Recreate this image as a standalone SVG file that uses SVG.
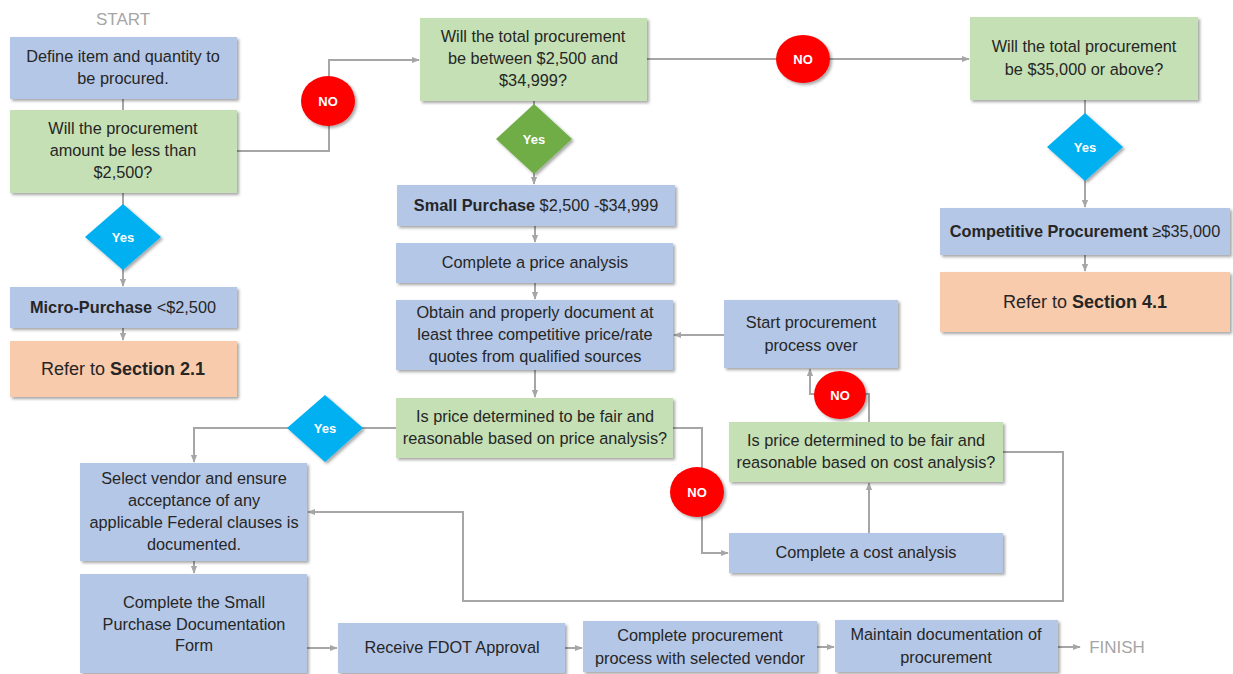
<svg xmlns="http://www.w3.org/2000/svg" width="1233" height="674" viewBox="0 0 1233 674">
<defs>
<filter id="sh" x="-10%" y="-10%" width="130%" height="140%">
<feDropShadow dx="2" dy="2" stdDeviation="1.5" flood-color="#000" flood-opacity="0.35"/>
</filter>
<marker id="ar" viewBox="0 0 10 10" refX="9" refY="5" markerWidth="4" markerHeight="4" orient="auto">
<path d="M0,1 L10,5 L0,9 z" fill="#A6A6A6"/>
</marker>
<style>
.b{fill:#B4C7E7;filter:url(#sh)}
.g{fill:#C5E0B4;filter:url(#sh)}
.o{fill:#F8CBAD;filter:url(#sh)}
.no{fill:#FF0000;filter:url(#sh)}
.yb{fill:#00B0F0;filter:url(#sh)}
.yg{fill:#70AD47;filter:url(#sh)}
text{font-family:"Liberation Sans",Arial,sans-serif;fill:#262626;font-size:16.3px;text-anchor:middle}
.bold{font-weight:bold}
.w{fill:#fff;font-weight:bold;font-size:13px}
.big{font-size:18px}
.gray{fill:#A6A6A6;font-size:17px}
.c{fill:none;stroke:#A6A6A6;stroke-width:2}
.ca{fill:none;stroke:#A6A6A6;stroke-width:2;marker-end:url(#ar)}
</style>
</defs>
<rect width="1233" height="674" fill="#fff"/>

<g id="connectors">
<path class="c" d="M123,99 V110"/>
<path class="ca" d="M237,151 H329 V60 H419"/>
<path class="ca" d="M123,193 V286"/>
<path class="ca" d="M123,328 V340"/>
<path class="ca" d="M647,59 H969"/>
<path class="ca" d="M534,101 V184"/>
<path class="ca" d="M535,226 V242"/>
<path class="ca" d="M535,283 V299"/>
<path class="ca" d="M1085,100 V207"/>
<path class="ca" d="M1085,255 V271"/>
<path class="ca" d="M724,335 H674"/>
<path class="ca" d="M535,370 V397"/>
<path class="ca" d="M396,428 H194 V462"/>
<path class="ca" d="M673,428 H702 V553 H728"/>
<path class="ca" d="M869,533 V483"/>
<path class="c" d="M869,422 V394 H840"/>
<path class="ca" d="M840,394 H810 V369"/>
<path class="ca" d="M1003,452 H1063 V601 H463 V512 H308"/>
<path class="ca" d="M194,561 V573"/>
<path class="ca" d="M307,648 H337"/>
<path class="ca" d="M565,648 H582"/>
<path class="ca" d="M817,647 H834"/>
<path class="ca" d="M1058,647 H1080"/>
</g>

<g id="start"><text class="gray" x="123" y="25">START</text></g>

<g id="define">
<rect class="b" x="10" y="37" width="227" height="62"/>
<text x="123" y="62">Define item and quantity to</text>
<text x="123" y="84">be procured.</text>
</g>

<g id="q-less2500">
<rect class="g" x="10" y="110" width="227" height="83"/>
<text x="123" y="134">Will the procurement</text>
<text x="123" y="156">amount be less than</text>
<text x="123" y="178">$2,500?</text>
</g>

<g id="no1">
<ellipse class="no" cx="328" cy="101" rx="27" ry="25"/>
<text class="w" x="328" y="106">NO</text>
</g>

<g id="yes1">
<polygon class="yb" points="123,204 161,237 123,270 85,237"/>
<text class="w" x="123" y="242">Yes</text>
</g>

<g id="micro">
<rect class="b" x="10" y="287" width="227" height="41"/>
<text x="123" y="313"><tspan class="bold">Micro-Purchase</tspan>  &lt;$2,500</text>
</g>

<g id="ref21">
<rect class="o" x="10" y="341" width="227" height="56"/>
<text class="big" x="123" y="375">Refer to <tspan class="bold">Section 2.1</tspan></text>
</g>

<g id="q-between">
<rect class="g" x="420" y="18" width="227" height="83"/>
<text x="533" y="42">Will the total procurement</text>
<text x="533" y="64">be between $2,500 and</text>
<text x="533" y="86">$34,999?</text>
</g>

<g id="yes2">
<polygon class="yg" points="534,104 572,139 534,174 496,139"/>
<text class="w" x="534" y="144">Yes</text>
</g>

<g id="no2">
<ellipse class="no" cx="803" cy="59" rx="27" ry="24"/>
<text class="w" x="803" y="64">NO</text>
</g>

<g id="q-35000">
<rect class="g" x="970" y="17" width="228" height="83"/>
<text x="1084" y="52">Will the total procurement</text>
<text x="1084" y="75">be $35,000 or above?</text>
</g>

<g id="yes3">
<polygon class="yb" points="1085,113 1123,147 1085,181 1047,147"/>
<text class="w" x="1085" y="152">Yes</text>
</g>

<g id="competitive">
<rect class="b" x="940" y="208" width="290" height="47"/>
<text x="1085" y="237"><tspan class="bold">Competitive  Procurement</tspan> ≥$35,000</text>
</g>

<g id="ref41">
<rect class="o" x="940" y="272" width="290" height="60"/>
<text class="big" x="1085" y="308">Refer to <tspan class="bold">Section 4.1</tspan></text>
</g>

<g id="small">
<rect class="b" x="397" y="185" width="278" height="41"/>
<text x="536" y="211"><tspan class="bold">Small Purchase</tspan> $2,500 -$34,999</text>
</g>

<g id="price-analysis">
<rect class="b" x="396" y="243" width="277" height="40"/>
<text x="535" y="268">Complete a price analysis</text>
</g>

<g id="obtain">
<rect class="b" x="396" y="300" width="277" height="70"/>
<text x="535" y="318">Obtain and properly document at</text>
<text x="535" y="340">least three competitive price/rate</text>
<text x="535" y="362">quotes from qualified sources</text>
</g>

<g id="start-over">
<rect class="b" x="724" y="300" width="174" height="68"/>
<text x="811" y="328">Start procurement</text>
<text x="811" y="351">process over</text>
</g>

<g id="q-price">
<rect class="g" x="396" y="398" width="277" height="60"/>
<text x="535" y="422">Is price determined to be fair and</text>
<text x="535" y="444">reasonable based on price analysis?</text>
</g>

<g id="yes4">
<polygon class="yb" points="325,395 363,428 325,462 287,428"/>
<text class="w" x="325" y="433">Yes</text>
</g>

<g id="no3">
<ellipse class="no" cx="697" cy="492" rx="27" ry="25"/>
<text class="w" x="697" y="497">NO</text>
</g>

<g id="no4">
<ellipse class="no" cx="840" cy="395" rx="26" ry="24"/>
<text class="w" x="840" y="400">NO</text>
</g>

<g id="q-cost">
<rect class="g" x="729" y="422" width="274" height="60"/>
<text x="866" y="446">Is price determined to be fair and</text>
<text x="866" y="468">reasonable based on cost analysis?</text>
</g>

<g id="cost-analysis">
<rect class="b" x="729" y="533" width="274" height="40"/>
<text x="866" y="558">Complete a cost analysis</text>
</g>

<g id="select">
<rect class="b" x="80" y="463" width="227" height="98"/>
<text x="194" y="484">Select vendor and ensure</text>
<text x="194" y="506">acceptance of any</text>
<text x="194" y="528">applicable Federal clauses is</text>
<text x="194" y="550">documented.</text>
</g>

<g id="form">
<rect class="b" x="80" y="574" width="227" height="99"/>
<text x="194" y="608">Complete the Small</text>
<text x="194" y="630">Purchase Documentation</text>
<text x="194" y="651">Form</text>
</g>

<g id="fdot">
<rect class="b" x="338" y="623" width="227" height="50"/>
<text x="452" y="653">Receive FDOT Approval</text>
</g>

<g id="complete-proc">
<rect class="b" x="583" y="621" width="234" height="51"/>
<text x="700" y="641">Complete procurement</text>
<text x="700" y="664">process with selected vendor</text>
</g>

<g id="maintain">
<rect class="b" x="835" y="620" width="223" height="52"/>
<text x="946" y="640">Maintain documentation of</text>
<text x="946" y="663">procurement</text>
</g>

<g id="finish"><text class="gray" x="1117" y="653">FINISH</text></g>
</svg>
